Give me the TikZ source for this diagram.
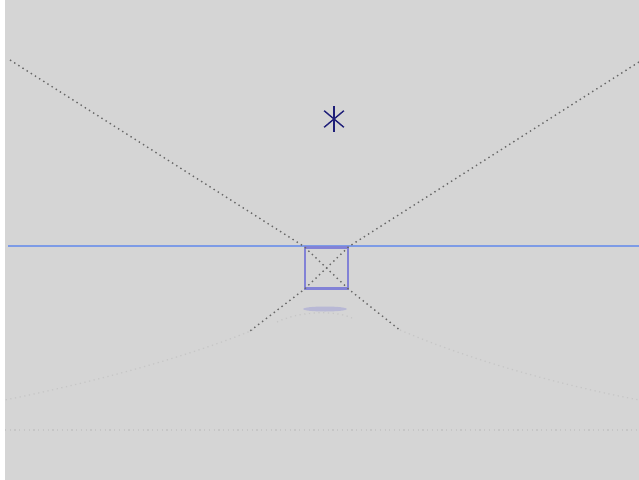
\documentclass[tikz,border=0pt]{standalone}
\usepackage{tikz}
\usetikzlibrary{positioning}

\definecolor{paper}{RGB}{213,213,213}
\definecolor{horizon}{RGB}{125,155,230}
\definecolor{boxblue}{RGB}{130,130,214}
\definecolor{stardark}{RGB}{30,30,120}
\definecolor{dotgray}{RGB}{105,105,105}

\tikzset{
  sightline/.style={dotted, line width=0.8pt, dotgray},
  faintline/.style={dotted, line width=0.7pt, gray!70, opacity=0.3},
}

\begin{document}
\begin{tikzpicture}[x=0.02cm, y=-0.02cm]

% Paper (white strip at the left edge)
\useasboundingbox (0,0) rectangle (639,480);
\fill[white] (0,0) rectangle (639,480);
\fill[paper] (5,0) rectangle (639,480);

% Faint lines in the lower half
\draw[faintline] (253,330) .. controls (180,360) and (80,385) .. (5,400);
\draw[faintline] (400,330) .. controls (470,360) and (560,385) .. (639,400);
\draw[faintline] (277,322) .. controls (300,311) and (335,310) .. (352,318);
\draw[faintline] (5,430) -- (639,430);

% Horizon
\coordinate (hl) at (8,246);
\coordinate (hr) at (639,246);
\draw[horizon, line width=1.4pt] (hl) -- (hr);

% Box on the horizon
\node[draw=boxblue, line width=1.3pt, minimum width=0.86cm, minimum height=0.82cm,
      inner sep=0pt] (box) at (326.5,268) {};

% Shadow under the box
\fill[boxblue, opacity=0.35] (325,309) ellipse (22 and 2.5);

% Sight lines
\coordinate (tl) at (10,60);
\coordinate (tr) at (639,62);
\coordinate (bl) at (250,331);
\coordinate (br) at (401,331);
\draw[sightline] (tl) -- (box.north west) -- (box.south east) -- (br);
\draw[sightline] (tr) -- (box.north east) -- (box.south west) -- (bl);

% Star
\node[circle, inner sep=0pt, minimum size=0.5cm] (star) at (334,119) {};
\draw[stardark, line width=0.8pt] (star.north) -- (star.south);
\draw[stardark, line width=0.8pt] (star.40) -- (star.220);
\draw[stardark, line width=0.8pt] (star.140) -- (star.320);

\end{tikzpicture}
\end{document}
